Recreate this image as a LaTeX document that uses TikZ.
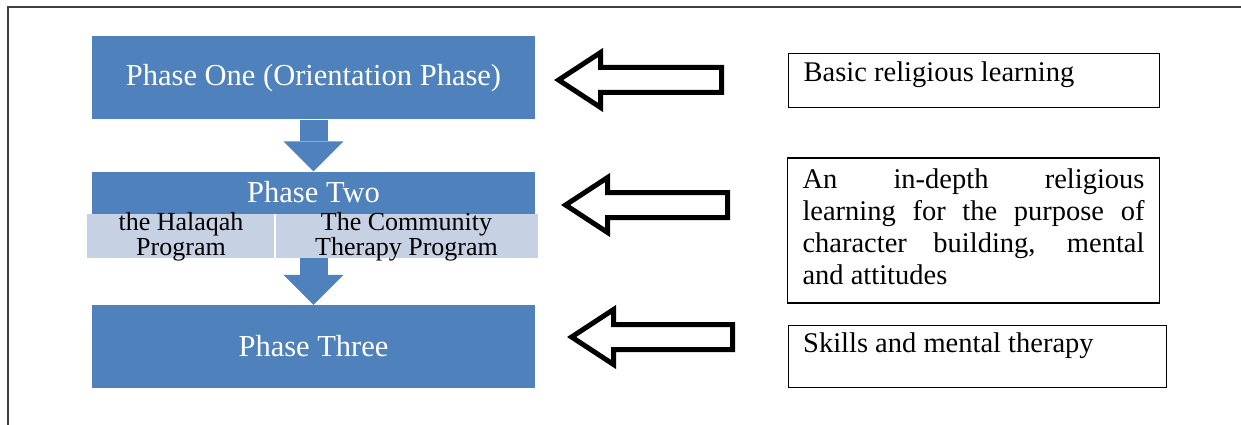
\documentclass[tikz,border=0pt]{standalone}
\usepackage{fontspec}
\setmainfont{Liberation Serif}
\usetikzlibrary{arrows.meta}
\definecolor{phaseblue}{RGB}{79,129,189}
\definecolor{cellblue}{RGB}{199,209,228}
\definecolor{framegray}{RGB}{64,64,64}
\hyphenpenalty=10000
\exhyphenpenalty=10000
\begin{document}
\begin{tikzpicture}[x=1pt,y=-1pt,
  phase/.style={fill=phaseblue, text=white, minimum width=443pt, inner sep=0pt,
    font=\fontsize{30.5}{34}\selectfont},
  cellbg/.style={fill=cellblue, inner sep=0pt},
  cell/.style={align=center, inner sep=0pt, font=\fontsize{26}{25}\selectfont},
  textbox/.style={draw=black, line width=1.3pt, inner xsep=15pt, inner ysep=4pt,
    align=justify, font=\fontsize{28.5}{32}\selectfont},
  blockarrow/.style={draw=phaseblue, line width=28pt,
    -{Triangle[width=60pt,length=30pt,line width=0pt]}},
  hollowline/.style={draw=black, fill=white, line width=5pt, line join=miter},
  pics/hollow/.style={code={
    \path[hollowline] (0,0) -- (42,-27.5) -- (42,-12.5) -- (#1,-12.5)
      -- (#1,12.5) -- (42,12.5) -- (42,27.5) -- cycle;}},
]
\useasboundingbox (0,0) rectangle (1241,425);

% page frame
\draw[framegray, line width=2pt] (1241,7) -- (8,7) -- (8,425);

% phases
\node[phase, minimum height=83pt] (p1) at (313.5,78) {Phase One (Orientation Phase)};
\node[phase, minimum height=42pt] (p2) at (313.5,192.5) {Phase Two};
\node[cellbg, minimum width=451pt, minimum height=44pt] (p2b) at (312.5,236) {};
\draw[white, line width=1.5pt] ([xshift=-37.5pt]p2b.north) -- ([xshift=-37.5pt]p2b.south);
\node[cell] (hal) at (181,236.5) {the Halaqah\\Program};
\node[cell] (com) at (406.5,236.5) {The Community\\Therapy Program};
\node[phase, minimum height=83pt] (p3) at (313.5,346.5) {Phase Three};

% flow between phases
\draw[blockarrow] (p1.south) -- (p2.north);
\draw[blockarrow] (p3.north |- p2b.south) -- (p3.north);

% descriptions
\node[textbox, anchor=north west, text width=341pt, minimum height=54pt,
  text height=24pt, text depth=22pt] (b1) at (788,53) {Basic religious learning};
\node[textbox, text width=342pt, minimum width=371pt, minimum height=145pt,
  text depth=104pt] (b2) at (973.5,230.5)
  {An in-depth religious\linebreak learning for the purpose of\linebreak
   character building, mental\linebreak and attitudes};
\node[textbox, anchor=north west, text width=348pt, minimum height=62pt,
  text height=23pt, text depth=31pt] (b3) at (787.5,325) {Skills and mental therapy};

% hollow pointers
\pic at (558.6,80) {hollow=163};
\pic at (565.6,205) {hollow=162};
\pic at (571.6,337) {hollow=161};
\end{tikzpicture}
\end{document}
